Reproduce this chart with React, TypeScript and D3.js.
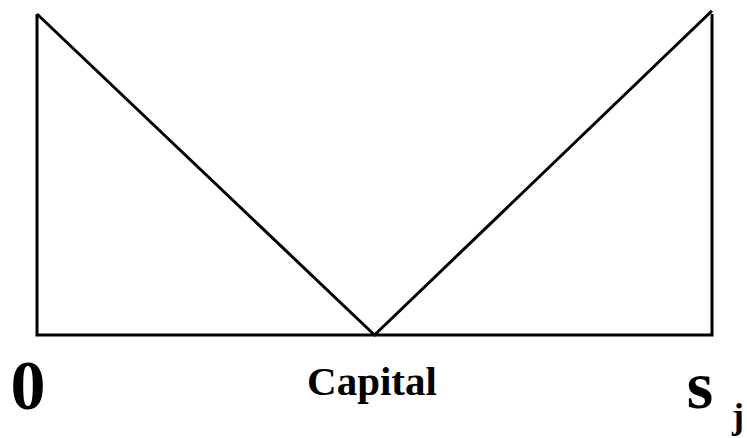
import React from "react";
import * as d3 from "d3";

const capitalX: number[] = [0, 0.5, 1];
const costY: number[] = [1, 0, 1.01];
const axisLabels: string[] = ["0", "Capital", "s"];
const subscriptLabel = "j";

const W = 747;
const H = 438;

export default function App() {
  const x = d3.scaleLinear().domain([0, 1]).range([37, 712]);
  const y = d3.scaleLinear().domain([0, 1]).range([335, 14]);
  const pts: [number, number][] = capitalX.map((v, i) => [v, costY[i]]);
  const line = d3
    .line<[number, number]>()
    .x((d) => x(d[0]))
    .y((d) => y(d[1]));
  const frame: [number, number][] = [
    [0, costY[0]],
    [0, 0],
    [1, 0],
    [1, costY[2] * 0.99],
  ];
  const tStyle: React.CSSProperties = {
    fontFamily: '"Liberation Serif", serif',
    fontWeight: 700,
  };
  return (
    <svg
      width={W}
      height={H}
      style={{ position: "absolute", left: 0, top: 0, background: "#fff" }}
    >
      <path d={line(frame) || ""} fill="none" stroke="#000" strokeWidth={3} strokeLinejoin="miter" />
      <path d={line(pts) || ""} fill="none" stroke="#000" strokeWidth={3} />
      <text x={28} y={409} style={{ ...tStyle, fontSize: 70 }} textAnchor="middle">
        {axisLabels[0]}
      </text>
      <text x={372} y={395} style={{ ...tStyle, fontSize: 41 }} textAnchor="middle">
        {axisLabels[1]}
      </text>
      <text x={700} y={408} style={{ ...tStyle, fontSize: 68 }} textAnchor="middle">
        {axisLabels[2]}
      </text>
      <text x={738} y={428} style={{ ...tStyle, fontSize: 36 }} textAnchor="middle">
        {subscriptLabel}
      </text>
    </svg>
  );
}
